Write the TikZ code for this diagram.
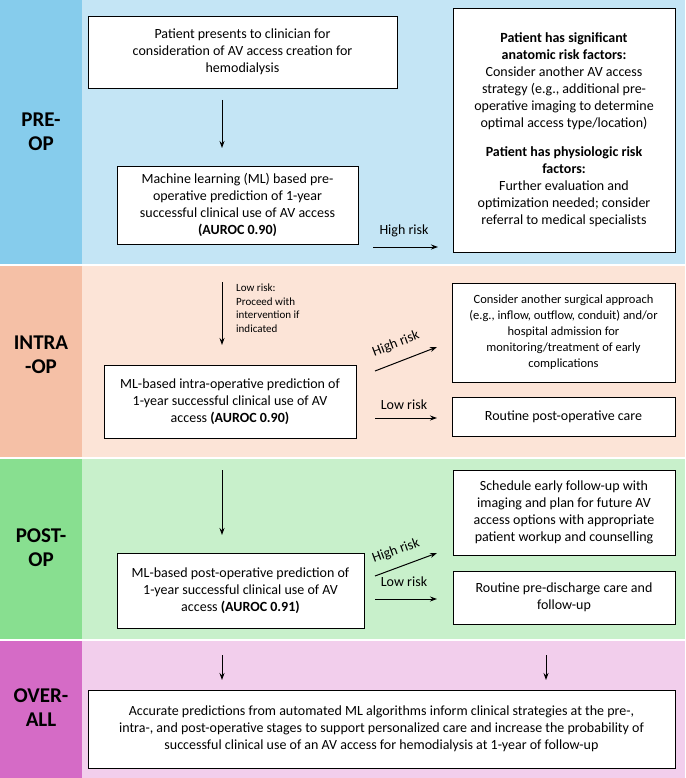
\documentclass[tikz,border=0pt]{standalone}
\usepackage{fontspec}
\setmainfont{Carlito}
\usetikzlibrary{arrows.meta}
\definecolor{preL}{HTML}{86CCEC}\definecolor{preR}{HTML}{C4E5F5}
\definecolor{intL}{HTML}{F5C0A6}\definecolor{intR}{HTML}{FCE4D7}
\definecolor{posL}{HTML}{88DF90}\definecolor{posR}{HTML}{C8F0CB}
\definecolor{ovL}{HTML}{D56BC6}\definecolor{ovR}{HTML}{F2CEEC}
\begin{document}
\begin{tikzpicture}[x=1pt,y=-1pt,
 box/.style={draw=black,fill=white,line width=0.6pt,align=center,font=\fontsize{14}{17}\selectfont,inner sep=2pt},
 lab/.style={font=\bfseries\fontsize{21}{24}\selectfont,align=center},
 arr/.style={-{Stealth[length=7pt,width=5pt]},line width=1pt},
 sm/.style={font=\fontsize{14}{17}\selectfont,inner sep=1pt}]
\useasboundingbox (0,0) rectangle (685,778);
\fill[preL] (0,0) rectangle (82,265); \fill[preR] (82,0) rectangle (685,265);
\fill[intL] (0,265) rectangle (82,458); \fill[intR] (82,265) rectangle (685,458);
\fill[posL] (0,458) rectangle (82,640); \fill[posR] (82,458) rectangle (685,640);
\fill[ovL] (0,640) rectangle (82,778); \fill[ovR] (82,640) rectangle (685,778);
\draw[white,line width=1.5pt] (0,265)--(685,265) (0,458)--(685,458) (0,640)--(685,640);
\node[lab] (l1) at (41,132) {PRE-\\OP};
\node[lab] (l2) at (41,355) {INTRA\\-OP};
\node[lab] (l3) at (41,548) {POST-\\OP};
\node[lab] (l4) at (41,708) {OVER-\\ALL};
\node[box,minimum width=309pt,minimum height=72pt] (b1) at (242.5,52) {Patient presents to clinician for\\consideration of AV access creation for\\hemodialysis};
\node[box,minimum width=241pt,minimum height=78pt] (b2) at (237.5,205) {Machine learning (ML) based pre-\\operative prediction of 1-year\\successful clinical use of AV access\\\textbf{(AUROC 0.90)}};
\node[box,minimum width=222pt,minimum height=244pt] (r1) at (564,130) {\textbf{Patient has significant}\\\textbf{anatomic risk factors:}\\Consider another AV access\\strategy (e.g., additional pre-\\operative imaging to determine\\optimal access type/location)\\[12pt]\textbf{Patient has physiologic risk}\\\textbf{factors:}\\Further evaluation and\\optimization needed; consider\\referral to medical specialists};
\coordinate (a1s) at (222,100); \coordinate (a1e) at (222,148);
\draw[arr] (a1s)--(a1e);
\coordinate (h1s) at (373,247); \coordinate (h1e) at (438,247);
\draw[arr] (h1s)--(h1e);
\node[sm] (t1) at (404,231) {High risk};
% intra
\coordinate (a2s) at (222,282); \coordinate (a2e) at (222,345);
\draw[arr] (a2s)--(a2e);
\node[align=left,font=\fontsize{11}{13.5}\selectfont,anchor=north west,inner sep=1pt] (t2) at (235,283) {Low risk:\\Proceed with\\intervention if\\indicated};
\node[box,minimum width=252pt,minimum height=73pt] (b3) at (230,401.5) {ML-based intra-operative prediction of\\1-year successful clinical use of AV\\access \textbf{(AUROC 0.90)}};
\node[box,minimum width=223pt,minimum height=99pt,font=\fontsize{12.5}{16}\selectfont] (r2) at (563.5,332.5) {Consider another surgical approach\\(e.g., inflow, outflow, conduit) and/or\\hospital admission for\\monitoring/treatment of early\\complications};
\node[box,minimum width=223pt,minimum height=39pt] (r3) at (563.5,416.5) {Routine post-operative care};
\coordinate (h2s) at (375,371); \coordinate (h2e) at (437,347);
\draw[arr] (h2s)--(h2e);
\node[sm,rotate=21] (t3) at (396,344) {High risk};
\coordinate (l2s) at (375,418); \coordinate (l2e) at (437,418);
\draw[arr] (l2s)--(l2e);
\node[sm] (t4) at (404,405) {Low risk};
% post
\coordinate (a3s) at (222,470); \coordinate (a3e) at (222,535);
\draw[arr] (a3s)--(a3e);
\node[box,minimum width=247pt,minimum height=75pt] (b4) at (240.5,590.5) {ML-based post-operative prediction of\\1-year successful clinical use of AV\\access \textbf{(AUROC 0.91)}};
\node[box,minimum width=222pt,minimum height=85pt] (r4) at (564,512.5) {Schedule early follow-up with\\imaging and plan for future AV\\access options with appropriate\\patient workup and counselling};
\node[box,minimum width=222pt,minimum height=53pt] (r5) at (564,597.5) {Routine pre-discharge care and\\follow-up};
\coordinate (h3s) at (375,576); \coordinate (h3e) at (437,553);
\draw[arr] (h3s)--(h3e);
\node[sm,rotate=20] (t5) at (396,551) {High risk};
\coordinate (l3s) at (375,599); \coordinate (l3e) at (437,599);
\draw[arr] (l3s)--(l3e);
\node[sm] (t6) at (404,582) {Low risk};
% overall
\coordinate (a4s) at (222,655); \coordinate (a4e) at (222,680);
\draw[arr] (a4s)--(a4e);
\coordinate (a5s) at (546,655); \coordinate (a5e) at (546,680);
\draw[arr] (a5s)--(a5e);
\node[box,minimum width=587pt,minimum height=78pt] (b5) at (381.5,729) {Accurate predictions from automated ML algorithms inform clinical strategies at the pre-,\\intra-, and post-operative stages to support personalized care and increase the probability of\\successful clinical use of an AV access for hemodialysis at 1-year of follow-up};
\end{tikzpicture}
\end{document}
